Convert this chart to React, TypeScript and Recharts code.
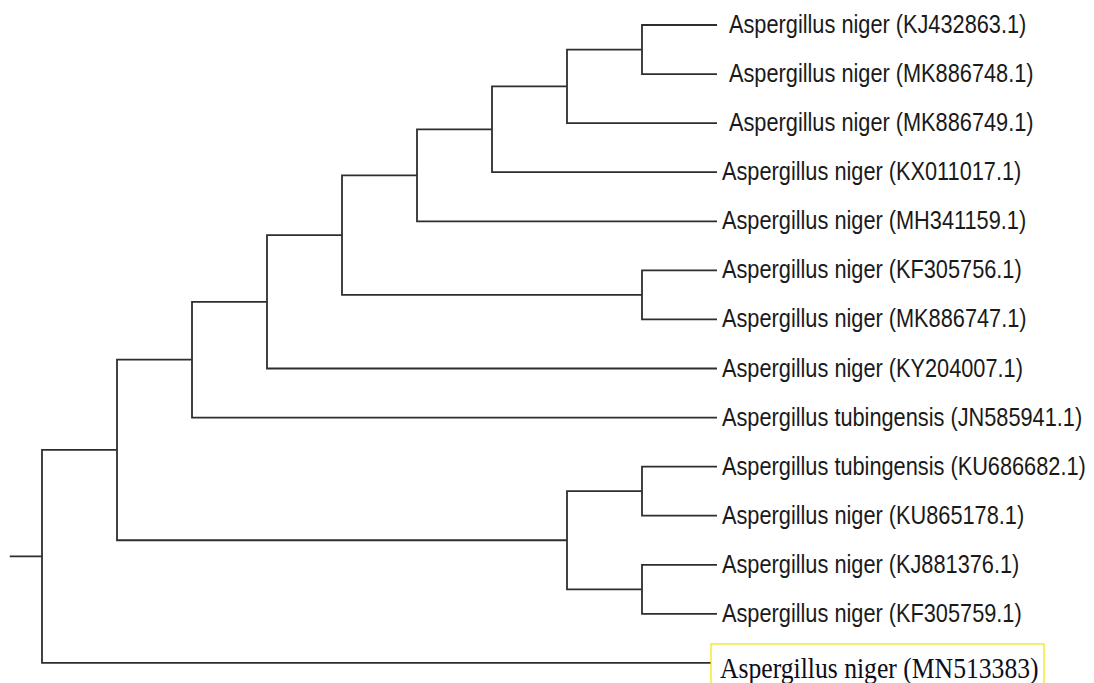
import { ScatterChart, Scatter, XAxis, YAxis } from "recharts";

// leaves, top to bottom
const species = [
  "Aspergillus niger",
  "Aspergillus niger",
  "Aspergillus niger",
  "Aspergillus niger",
  "Aspergillus niger",
  "Aspergillus niger",
  "Aspergillus niger",
  "Aspergillus niger",
  "Aspergillus tubingensis",
  "Aspergillus tubingensis",
  "Aspergillus niger",
  "Aspergillus niger",
  "Aspergillus niger",
  "Aspergillus niger",
];

const accessions = [
  "KJ432863.1",
  "MK886748.1",
  "MK886749.1",
  "KX011017.1",
  "MH341159.1",
  "KF305756.1",
  "MK886747.1",
  "KY204007.1",
  "JN585941.1",
  "KU686682.1",
  "KU865178.1",
  "KJ881376.1",
  "KF305759.1",
  "MN513383",
];

// topology, leaves referenced by index
const tree: any = [[[[[[[[[0, 1], 2], 3], 4], [5, 6]], 7], 8], [[9, 10], [11, 12]]], 13];

const queryLeaf = 13;
const wideGap = new Set([0, 1, 2]);

type Pt = { x: number; y: number };

const height = (n: any): number => (typeof n === "number" ? 0 : 1 + Math.max(height(n[0]), height(n[1])));
const rootH = height(tree);

const elbows: Pt[][] = [];
const place = (n: any): Pt => {
  if (typeof n === "number") return { x: rootH, y: n };
  const a = place(n[0]);
  const b = place(n[1]);
  const p = { x: rootH - height(n), y: (a.y + b.y) / 2 };
  elbows.push([
    { x: a.x, y: a.y },
    { x: p.x, y: a.y },
    { x: p.x, y: b.y },
    { x: b.x, y: b.y },
  ]);
  return p;
};
const root = place(tree);
const stub: Pt[] = [
  { x: -0.43, y: root.y },
  { x: 0, y: root.y },
];

const leaves = species.map((s, i) => ({ x: rootH, y: i, idx: i, label: `${s} (${accessions[i]})` }));

const LINE = "#2e2e2e";
const LW = 1.8;

const Nothing = () => <g />;

const LeafLabel = (props: any) => {
  const d = props.payload ?? props;
  const { cx, cy } = props;
  if (d.idx === queryLeaf) {
    return (
      <g>
        <rect x={cx - 6} y={cy - 19} width={333} height={48} fill="#fff" stroke="#f2e400" strokeWidth={1.2} />
        <text
          transform={`translate(${cx + 3}, ${cy + 15}) scale(0.95, 1.08)`}
          fontFamily="'Liberation Serif', 'Times New Roman', serif"
          fontSize={27}
          fill="#0d0d1a"
        >
          {d.label}
        </text>
      </g>
    );
  }
  const gap = wideGap.has(d.idx) ? 12 : 5;
  return (
    <text
      transform={`translate(${cx + gap}, ${cy + 8}) scale(0.87, 1)`}
      fontFamily="'Liberation Sans', Arial, sans-serif"
      fontSize={25}
      fill="#1a1a1a"
    >
      {d.label}
    </text>
  );
};

export default function App() {
  return (
    <div style={{ position: "absolute", left: 0, top: 0, background: "#fff" }}>
      <ScatterChart width={1094} height={683} margin={{ top: 0, right: 0, bottom: 0, left: 0 }}>
        <XAxis type="number" dataKey="x" hide domain={[-0.56, 14.0267]} allowDataOverflow />
        <YAxis type="number" dataKey="y" hide reversed domain={[-0.5095, 13.409]} allowDataOverflow />
        <Scatter
          data={stub}
          fill={LINE}
          line={{ stroke: LINE, strokeWidth: LW }}
          shape={Nothing}
          isAnimationActive={false}
        />
        {elbows.map((pts, i) => (
          <Scatter
            key={i}
            data={pts}
            fill={LINE}
            line={{ stroke: LINE, strokeWidth: LW }}
            shape={Nothing}
            isAnimationActive={false}
          />
        ))}
        <Scatter data={leaves} fill={LINE} shape={LeafLabel} isAnimationActive={false} />
      </ScatterChart>
    </div>
  );
}
